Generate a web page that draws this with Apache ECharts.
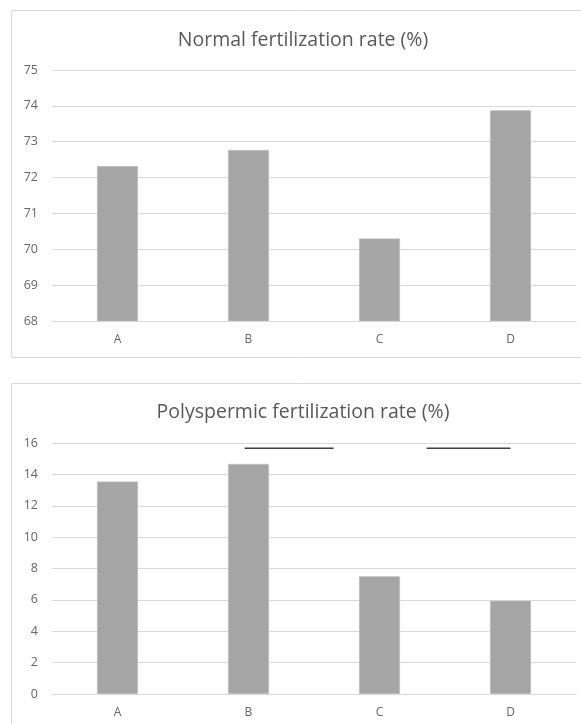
<!DOCTYPE html>
<html><head><meta charset="utf-8">
<script src="https://cdn.jsdelivr.net/npm/echarts@6/dist/echarts.min.js"></script>
<style>html,body{margin:0;padding:0;background:#fff}#c{width:581px;height:724px}</style>
</head><body><div id="c"></div>
<script>
const categories = ['A','B','C','D'];
const normalRate = [72.32, 72.77, 70.30, 73.88];
const polyRate = [13.54, 14.66, 7.50, 5.95];
const normalTicks = {min: 68, max: 75, interval: 1};
const polyTicks = {min: 0, max: 16, interval: 2};
const sigLevel = 15.66;
const sigLines = [[[1.47, sigLevel],[2.15, sigLevel]], [[2.86, sigLevel],[3.5, sigLevel]]];
const titles = ['Normal fertilization rate (%)', 'Polyspermic fertilization rate (%)'];

const FONT = 'Open Sans';
const txt = '#595959';
const lbl = '#666666';
const gridCol = '#d9d9d9';

function yAx(grid, t){
  return {type:'value', gridIndex:grid, min:t.min, max:t.max, interval:t.interval,
    axisLine:{show:false}, axisTick:{show:false},
    axisLabel:{color:lbl, fontSize:12.5, fontFamily:FONT, margin:14},
    splitLine:{lineStyle:{color:gridCol, width:1}}};
}
function xAx(grid){
  return {type:'category', gridIndex:grid, data:categories,
    axisLine:{lineStyle:{color:gridCol}}, axisTick:{show:false},
    axisLabel:{color:lbl, fontSize:12, fontFamily:FONT, margin:13}};
}
const sigData = [];
sigLines.forEach((seg,i)=>{ if(i) sigData.push([null,null]); seg.forEach(p=>sigData.push(p)); });

const chart = echarts.init(document.getElementById('c'), null, {renderer:'canvas'});
chart.setOption({
  animation:false,
  title:[
    {text:titles[0], left:298, top:25, textAlign:'center', textStyle:{color:txt, fontSize:19.5, fontWeight:'normal', fontFamily:FONT}},
    {text:titles[1], left:298, top:397, textAlign:'center', textStyle:{color:txt, fontSize:19.5, fontWeight:'normal', fontFamily:FONT}}
  ],
  graphic:[
    {type:'rect', shape:{x:11.5, y:10.5, width:600, height:347}, style:{fill:null, stroke:gridCol, lineWidth:1}, silent:true},
    {type:'rect', shape:{x:11.5, y:383.5, width:600, height:400}, style:{fill:null, stroke:gridCol, lineWidth:1}, silent:true}
  ],
  grid:[
    {left:52, right:5, top:70, height:251},
    {left:52, right:5, top:443, height:251}
  ],
  xAxis:[xAx(0), xAx(1),
    {type:'value', gridIndex:1, min:0, max:4, show:false}],
  yAxis:[yAx(0, normalTicks), yAx(1, polyTicks)],
  series:[
    {type:'bar', xAxisIndex:0, yAxisIndex:0, data:normalRate, barWidth:41,
      itemStyle:{color:'#a5a5a5', borderColor:'#c8c8c8', borderWidth:0.5}},
    {type:'bar', xAxisIndex:1, yAxisIndex:1, data:polyRate, barWidth:41,
      itemStyle:{color:'#a5a5a5', borderColor:'#c8c8c8', borderWidth:0.5}},
    {type:'line', xAxisIndex:2, yAxisIndex:1, data:sigData, symbol:'none', connectNulls:false,
      lineStyle:{color:'#404040', width:1.5}, silent:true}
  ]
});
</script></body></html>
